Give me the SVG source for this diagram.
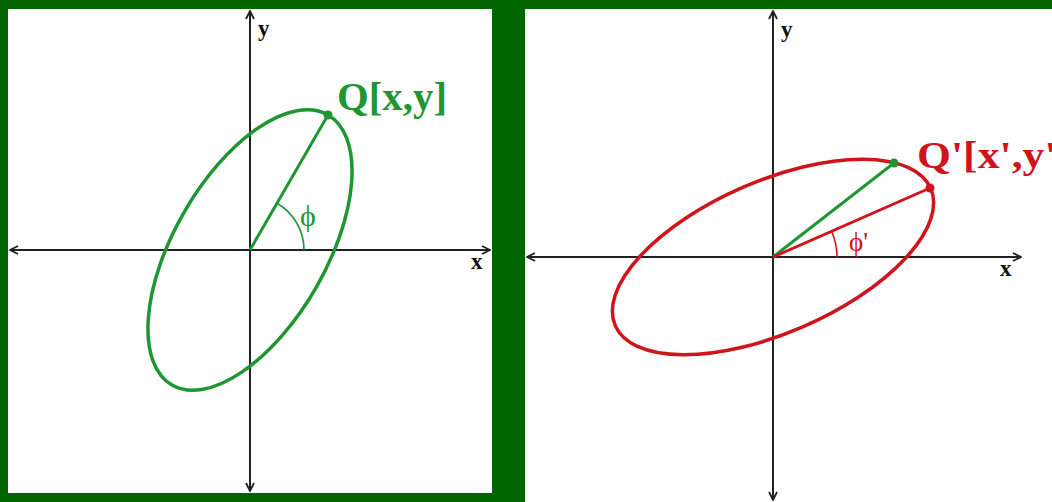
<svg xmlns="http://www.w3.org/2000/svg" width="1052" height="502" viewBox="0 0 1052 502">
<defs>
<style>
.axis{stroke:#222;stroke-width:2;fill:none}
.lbl{font-family:"Liberation Serif",serif;font-weight:bold;font-size:23px;fill:#111}
.g{stroke:#1e9632;fill:none}
.r{stroke:#d0141c;fill:none}
.gt{font-family:"Liberation Serif",serif;fill:#1e9632}
.rt{font-family:"Liberation Serif",serif;fill:#d0141c}
</style>
<marker id="ah" viewBox="0 0 10 10" refX="9" refY="5" markerWidth="10" markerHeight="10" markerUnits="userSpaceOnUse" orient="auto-start-reverse">
<path d="M1,1 L9,5 L1,9" fill="none" stroke="#222" stroke-width="1.8"/>
</marker>
</defs>
<rect x="0" y="0" width="1052" height="502" fill="#006400"/>
<g id="panel-left">
<rect x="8" y="9" width="484" height="484" fill="#fff"/>
</g>
<g id="panel-right">
<rect x="525" y="9" width="527" height="493" fill="#fff"/>
</g>
<g id="connectors">
<line class="axis" x1="10" y1="250" x2="490" y2="250" marker-start="url(#ah)" marker-end="url(#ah)"/>
<line class="axis" x1="250" y1="11" x2="250" y2="491" marker-start="url(#ah)" marker-end="url(#ah)"/>
<line class="axis" x1="527" y1="257" x2="1021" y2="257" marker-start="url(#ah)" marker-end="url(#ah)"/>
<line class="axis" x1="773" y1="11" x2="773" y2="500" marker-start="url(#ah)" marker-end="url(#ah)"/>
</g>
<g id="left-ellipse">
<ellipse class="g" cx="0" cy="0" rx="156" ry="76" stroke-width="3.5" transform="translate(250,250) rotate(-60)"/>
<line class="g" x1="250" y1="250" x2="328" y2="115" stroke-width="3"/>
<path class="g" d="M304,250 A54,54 0 0 0 277,203.2" stroke-width="1.6"/>
<circle cx="328" cy="115" r="4.5" fill="#1e9632"/>
<text class="gt" x="300" y="226" font-size="30">ϕ</text>
<text class="gt" x="337" y="110" font-size="40" font-weight="bold" textLength="110" lengthAdjust="spacingAndGlyphs">Q[x,y]</text>
</g>
<g id="right-ellipse">
<ellipse class="r" cx="0" cy="0" rx="172" ry="76" stroke-width="3.5" transform="translate(773,257) rotate(-23.5)"/>
<line class="g" x1="773" y1="257" x2="894" y2="163" stroke-width="3"/>
<line class="r" x1="773" y1="257" x2="930" y2="188" stroke-width="3"/>
<path class="r" d="M837,257 A64,64 0 0 0 831.7,231.5" stroke-width="1.6"/>
<circle cx="894" cy="163" r="4.5" fill="#1e9632"/>
<circle cx="930" cy="188" r="4.5" fill="#d0141c"/>
<text class="rt" x="849" y="251" font-size="27">ϕ'</text>
<text class="rt" font-size="38" font-weight="bold" transform="translate(917,168) scale(1.15,1)">Q'[x',y']</text>
</g>
<g id="axis-labels">
<text class="lbl" x="258" y="36">y</text>
<text class="lbl" x="471" y="269">x</text>
<text class="lbl" x="781" y="37">y</text>
<text class="lbl" x="1000" y="276">x</text>
</g>
</svg>
